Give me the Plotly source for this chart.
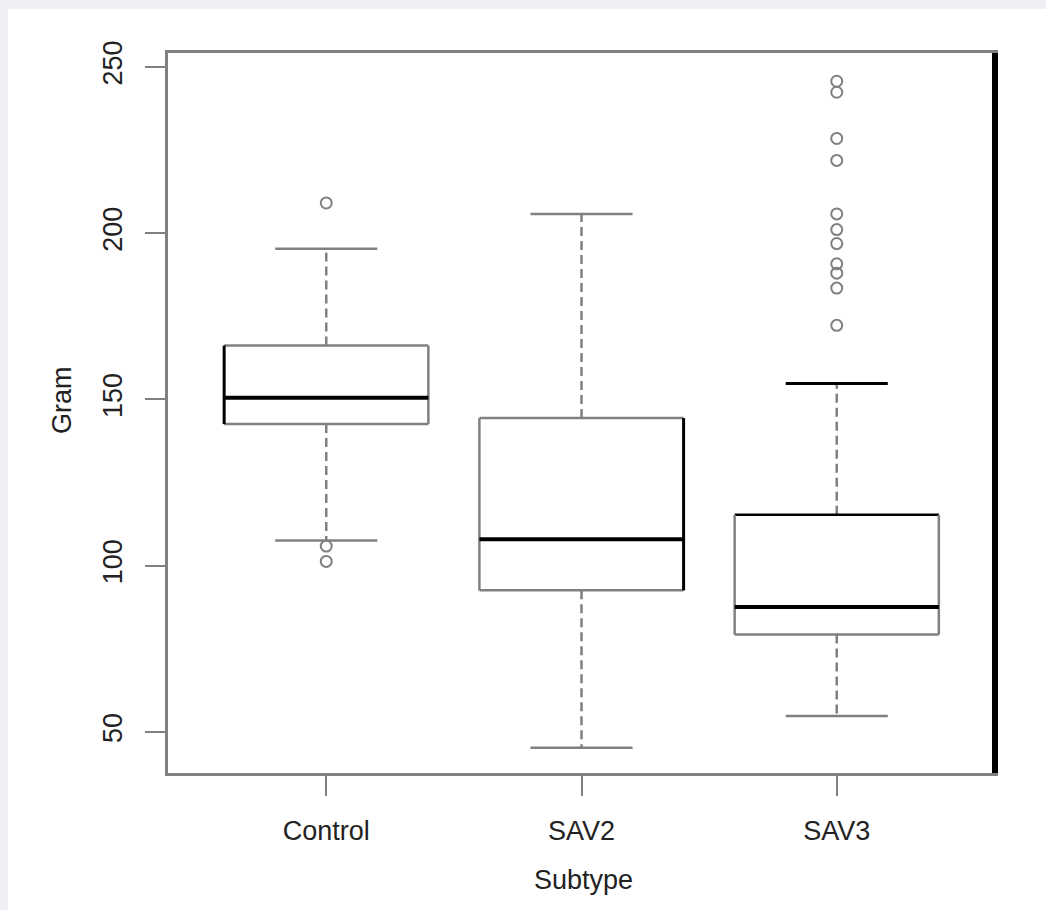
import plotly.graph_objects as go

# ---- data ----
groups = ["Control", "SAV2", "SAV3"]
q1 = [142.6, 92.6, 79.3]
medians = [150.5, 108.0, 87.6]
q3 = [166.2, 144.4, 115.3]
lower_whisker = [107.6, 45.3, 54.8]
upper_whisker = [195.3, 205.8, 154.8]
outliers_control = [209.1, 105.9, 101.3]
outliers_sav2 = []
outliers_sav3 = [245.7, 242.4, 228.5, 221.9, 205.8, 201.1, 196.9, 190.8, 188.0, 183.5, 172.3]
outliers = [outliers_control, outliers_sav2, outliers_sav3]
y_ticks = [50, 100, 150, 200, 250]

# ---- styling ----
GRAY = "#808080"
BLACK = "#000000"
TEXT = "#222222"
FONT = "Liberation Sans, Arial, sans-serif"
BOX_HALF = 0.4
STAPLE_HALF = 0.2
# edges that look black in the reference (rendering artefacts kept for fidelity)
black_edges = {"Control": ["left"], "SAV2": ["right"], "SAV3": ["top", "upper_staple"]}

fig = go.Figure()

def seg(x, y, color, width, dash="solid"):
    fig.add_trace(go.Scatter(x=x, y=y, mode="lines", showlegend=False, hoverinfo="skip",
                             line=dict(color=color, width=width, dash=dash)))

for i, g in enumerate(groups):
    p = i + 1
    be = black_edges.get(g, [])
    L, R = p - BOX_HALF, p + BOX_HALF
    # whiskers (dashed)
    seg([p, p], [q3[i], upper_whisker[i]], GRAY, 2.5, "9px,5px")
    seg([p, p], [q1[i], lower_whisker[i]], GRAY, 2.5, "9px,5px")
    # staples
    seg([p - STAPLE_HALF, p + STAPLE_HALF], [upper_whisker[i]] * 2,
        BLACK if "upper_staple" in be else GRAY, 3 if "upper_staple" in be else 2.5)
    seg([p - STAPLE_HALF, p + STAPLE_HALF], [lower_whisker[i]] * 2, GRAY, 2.5)
    # box edges
    seg([L, R], [q3[i]] * 2, BLACK if "top" in be else GRAY, 2.5)
    seg([L, R], [q1[i]] * 2, GRAY, 2.5)
    seg([L, L], [q1[i], q3[i]], BLACK if "left" in be else GRAY, 3 if "left" in be else 2.5)
    seg([R, R], [q1[i], q3[i]], BLACK if "right" in be else GRAY, 3 if "right" in be else 2.5)
    # median
    seg([L, R], [medians[i]] * 2, BLACK, 4)
    # outliers
    if outliers[i]:
        fig.add_trace(go.Scatter(x=[p] * len(outliers[i]), y=outliers[i], mode="markers",
                                 showlegend=False, hoverinfo="skip",
                                 marker=dict(symbol="circle-open", size=11, color=GRAY,
                                             line=dict(color=GRAY, width=2))))

W, H = 1046, 910
ML, MR, MT, MB = 168, 51, 53, 137
pw, ph = W - ML - MR, H - MT - MB

def px_x(px):
    return (px - ML) / pw

def px_y(py):
    return (H - MB - py) / ph

fig.update_layout(
    width=W, height=H,
    margin=dict(l=ML, r=MR, t=MT, b=MB, pad=0),
    paper_bgcolor="#EEF0F5",
    plot_bgcolor="#FFFFFF",
    font=dict(family=FONT, size=27, color=TEXT),
    xaxis=dict(range=[0.38, 3.62], tickmode="array", tickvals=[1, 2, 3], ticktext=groups,
               showgrid=False, zeroline=False, showline=True, mirror=True,
               linecolor=GRAY, linewidth=2.5, ticks="outside", ticklen=20, tickwidth=2,
               tickcolor=GRAY, ticklabelstandoff=12,
               tickfont=dict(family=FONT, size=27, color=TEXT)),
    yaxis=dict(range=[37.67, 254.2], tickmode="array", tickvals=y_ticks,
               ticktext=[str(v) for v in y_ticks], tickangle=-90,
               showgrid=False, zeroline=False, showline=True, mirror=True,
               linecolor=GRAY, linewidth=2.5, ticks="outside", ticklen=20, tickwidth=2,
               tickcolor=GRAY, ticklabelstandoff=12,
               tickfont=dict(family=FONT, size=27, color=TEXT)),
    shapes=[
        # white panel inside the light frame
        dict(type="rect", xref="paper", yref="paper", layer="below",
             x0=px_x(8), x1=px_x(W + 5), y0=px_y(H + 5), y1=px_y(9),
             fillcolor="#FFFFFF", line=dict(width=0)),
        # thick black right border
        dict(type="line", xref="paper", yref="paper", x0=1, x1=1, y0=0, y1=px_y(53),
             line=dict(color=BLACK, width=6)),
    ],
    annotations=[
        dict(text="Subtype", xref="paper", yref="paper", x=px_x(583), y=px_y(880),
             showarrow=False, xanchor="center", yanchor="middle",
             font=dict(family=FONT, size=27, color=TEXT)),
        dict(text="Gram", xref="paper", yref="paper", x=px_x(62), y=px_y(400),
             showarrow=False, xanchor="center", yanchor="middle", textangle=-90,
             font=dict(family=FONT, size=27, color=TEXT)),
    ],
)

fig.write_html("out.html")
